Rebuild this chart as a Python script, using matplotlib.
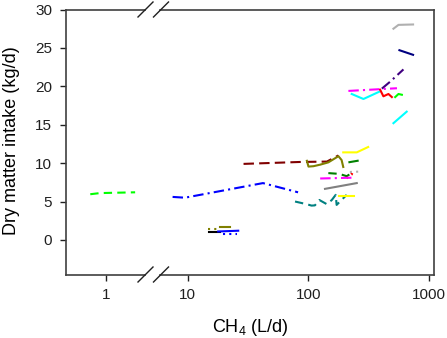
"""
Dry matter intake vs CH4 production, log x-axis with a break between 2 and 6.
Saves out.png (447x338 px).
"""

import matplotlib
matplotlib.use("Agg")
import matplotlib.pyplot as plt
from matplotlib.lines import Line2D
from matplotlib.ticker import FixedLocator, NullLocator

plt.rcParams["font.family"] = ["Liberation Sans", "DejaVu Sans"]
plt.rcParams["mathtext.fontset"] = "custom"
plt.rcParams["mathtext.rm"] = "Liberation Sans"
plt.rcParams["mathtext.it"] = "Liberation Sans:italic"

# --- Data (CH4 in L/d, DMI in kg/d) ----------------------------------------
# left (broken) segment
lime_x = [0.74, 0.89, 1.74]
lime_y = [5.95, 6.1, 6.2]

# right segment
blue_x = [7.5, 9.5, 42, 82]
blue_y = [5.6, 5.5, 7.4, 6.2]

maroon_x = [29, 85, 142, 177]
maroon_y = [9.9, 10.15, 10.2, 11.0]

olive_x = [97, 100, 110, 125, 146, 177, 188, 194]
olive_y = [10.3, 9.55, 9.6, 9.8, 10.1, 10.9, 10.4, 9.5]

yellow_hi_x = [194, 251, 312]
yellow_hi_y = [11.4, 11.4, 12.1]

dkgreen_hi_x = [214, 276]
dkgreen_hi_y = [10.1, 10.4]

dkgreen_lo_x = [146, 180, 207, 228]
dkgreen_lo_y = [8.7, 8.6, 8.3, 8.7]

silver_dot_x = [220, 270]
silver_dot_y = [8.85, 8.9]

red_dot_x = [207, 225, 250]
red_dot_y = [8.0, 8.6, 8.4]

magenta_lo_x = [125, 228]
magenta_lo_y = [8.0, 8.1]

gray_x = [137, 251]
gray_y = [6.65, 7.4]

teal_x = [77.4, 96.8, 106, 113, 123, 142, 156, 168, 171, 207]
teal_y = [5.0, 4.65, 4.47, 4.5, 5.2, 4.65, 5.2, 5.87, 4.56, 5.87]

yellow_lo_x = [180, 240]
yellow_lo_y = [5.74, 5.74]

olive_dot_x = [14.6, 18.2]
olive_dot_y = [1.43, 1.43]

olive_sm_x = [18.5, 22.4]
olive_sm_y = [1.65, 1.65]

black_x = [15.1, 18.5]
black_y = [1.04, 1.04]

blue_sm_x = [17.9, 26.2]
blue_sm_y = [1.1, 1.2]

blue_dot_x = [19.7, 25.4]
blue_dot_y = [0.78, 0.78]

magenta_hi_x = [214, 540]
magenta_hi_y = [19.4, 19.75]

cyan_hi_x = [228, 285, 392]
cyan_hi_y = [19.0, 18.35, 19.35]

red_x = [392, 417, 459, 490]
red_y = [19.55, 18.7, 19.0, 18.6]

lime_hi_x = [522, 556, 593]
lime_hi_y = [18.6, 19.0, 18.9]

purple_x = [405, 474, 611]
purple_y = [19.7, 20.6, 22.2]

cyan_lo_x = [505, 650]
cyan_lo_y = [15.2, 16.7]

navy_x = [566, 734]
navy_y = [24.7, 24.1]

silver_x = [505, 556, 734]
silver_y = [27.5, 28.0, 28.05]

# --- Styles -----------------------------------------------------------------
DASH = (0, (4, 2.5))
LDASH = (0, (5, 2.5))
DASHDOT = (0, (5, 2, 1, 2))
DOT = (0, (1, 2))
LW = 1.5

right_series = [
    (blue_x, blue_y, "#0000FF", DASHDOT),
    (maroon_x, maroon_y, "#800000", LDASH),
    (olive_x, olive_y, "#808000", "-"),
    (yellow_hi_x, yellow_hi_y, "#FFFF00", "-"),
    (dkgreen_hi_x, dkgreen_hi_y, "#008000", DASHDOT),
    (dkgreen_lo_x, dkgreen_lo_y, "#008000", DASH),
    (silver_dot_x, silver_dot_y, "#B0B0B0", DOT),
    (red_dot_x, red_dot_y, "#FF0000", DOT),
    (magenta_lo_x, magenta_lo_y, "#FF00FF", DASHDOT),
    (gray_x, gray_y, "#808080", "-"),
    (teal_x, teal_y, "#008080", DASH),
    (yellow_lo_x, yellow_lo_y, "#FFFF00", "-"),
    (olive_dot_x, olive_dot_y, "#808000", DOT),
    (olive_sm_x, olive_sm_y, "#808000", "-"),
    (black_x, black_y, "#000000", "-"),
    (blue_sm_x, blue_sm_y, "#0000FF", "-"),
    (blue_dot_x, blue_dot_y, "#0000FF", DOT),
    (magenta_hi_x, magenta_hi_y, "#FF00FF", DASHDOT),
    (cyan_hi_x, cyan_hi_y, "#00FFFF", "-"),
    (red_x, red_y, "#FF0000", "-"),
    (lime_hi_x, lime_hi_y, "#00FF00", "-"),
    (purple_x, purple_y, "#400080", DASHDOT),
    (cyan_lo_x, cyan_lo_y, "#00FFFF", "-"),
    (navy_x, navy_y, "#000080", "-"),
    (silver_x, silver_y, "#B0B0B0", "-"),
]

SPINE = "#404040"
FS_TICK = 11
FS_LABEL = 13

W, H = 447, 338
fig = plt.figure(figsize=(W / 100, H / 100), dpi=100)

top_px, bot_px = 9.5, 274.5
b = 1 - bot_px / H
h = (bot_px - top_px) / H
ax_l = fig.add_axes([66 / W, b, (145 - 66) / W, h])
ax_r = fig.add_axes([160 / W, b, (434 - 160) / W, h])

ax_l.plot(lime_x, lime_y, color="#00FF00", linestyle=DASH, linewidth=LW)
for xs, ys, c, ls in right_series:
    ax_r.plot(xs, ys, color=c, linestyle=ls, linewidth=LW)

for ax in (ax_l, ax_r):
    ax.set_xscale("log")
    ax.set_ylim(-4.5, 30)
    ax.xaxis.set_minor_locator(NullLocator())
    ax.tick_params(direction="out", length=4, width=1, colors="#202020",
                   labelsize=FS_TICK, pad=6)
    for s in ax.spines.values():
        s.set_color(SPINE)
        s.set_linewidth(1.2)

ax_l.set_xlim(0.466, 2.1)
ax_l.xaxis.set_major_locator(FixedLocator([1]))
ax_l.set_xticklabels(["1"])
ax_l.set_yticks([0, 5, 10, 15, 20, 25, 30])
ax_l.spines["right"].set_visible(False)

ax_r.set_xlim(5.9, 1094)
ax_r.xaxis.set_major_locator(FixedLocator([10, 100, 1000]))
ax_r.set_xticklabels(["10", "100", "1000"])
ax_r.tick_params(axis="y", left=False, labelleft=False)
ax_r.spines["left"].set_visible(False)

# axis-break marks on top and bottom spines
for cx in (145.5, 161):
    for cy in (top_px, bot_px):
        fig.add_artist(Line2D([(cx - 7.5) / W, (cx + 7.5) / W],
                              [1 - (cy + 7.5) / H, 1 - (cy - 7.5) / H],
                              color="#202020", linewidth=1.0))

fig.text(250 / W, 1 - 331.5 / H, "CH$_4$ (L/d)", ha="center", va="baseline",
         fontsize=FS_LABEL)
fig.text(12 / W, 1 - 141 / H, "Dry matter intake (kg/d)", ha="center",
         va="center", rotation=90, fontsize=FS_LABEL)

fig.savefig("out.png", dpi=100)
